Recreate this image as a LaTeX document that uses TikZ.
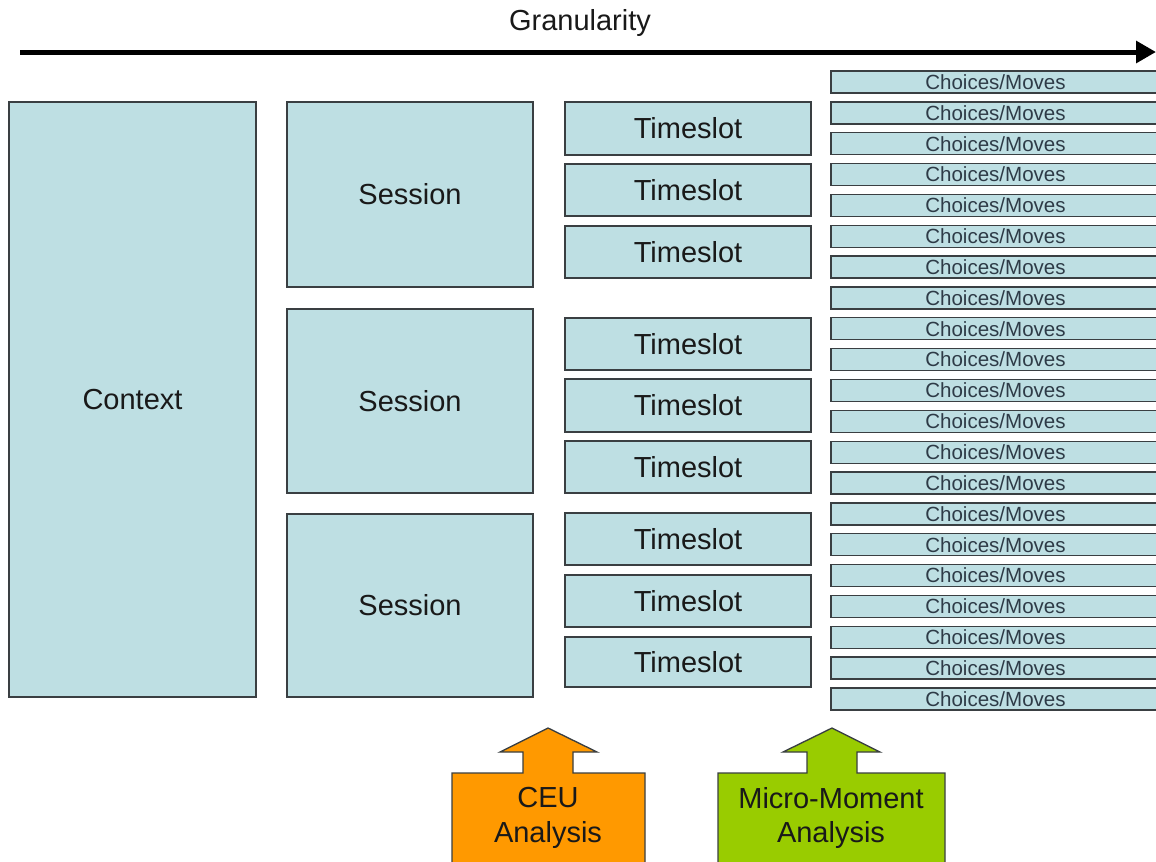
\documentclass[tikz,border=0pt]{standalone}
\usepackage{fontspec}
\setmainfont{Liberation Sans}
\usetikzlibrary{arrows.meta}
\definecolor{boxfill}{HTML}{BEDFE3}
\definecolor{boxline}{HTML}{3A3F42}
\definecolor{ceucol}{HTML}{FF9900}
\definecolor{mmcol}{HTML}{99CC00}
\definecolor{chtext}{HTML}{2E3B47}
\newcommand\mybox[6]{\node[box, minimum width={(#4-#2)*0.75pt}, minimum height={(#5-#3)*0.75pt}] (#1) at ({(#2+#4)/2},{(#3+#5)/2}) {#6};}
\begin{document}
\begin{tikzpicture}[x=0.75pt,y=-0.75pt,
  box/.style={draw=boxline, fill=boxfill, line width=1pt, inner sep=0pt, text=black!90, font=\fontsize{21.75}{26}\selectfont},
  chbox/.style={draw=boxline, fill=boxfill, line width=1pt, inner sep=0pt, text=chtext, minimum width={329*0.75pt}, minimum height={22*0.75pt}, font=\fontsize{15.4}{17}\selectfont},
  bigtext/.style={font=\fontsize{21.75}{26}\selectfont, text=black!90, align=center},
  uparrow/.style={draw=boxline, line width=1pt}]
\useasboundingbox (0,0) rectangle (1156,861);
\clip (0,0) rectangle (1156,861);
\fill[white] (0,0) rectangle (1156,861);
% granularity arrow
\coordinate (gs) at (20,52);
\coordinate (ge) at (1156,52);
\draw[line width=3.75pt, -{Triangle[length=15pt,width=16pt]}] (gs) -- (ge);
\node[bigtext] (gran) at (580,23) {Granularity};
% context and sessions
\mybox{context}{9}{102}{256}{697}{Context}
\mybox{s1}{287}{102}{533}{287}{Session}
\mybox{s2}{287}{309}{533}{493}{Session}
\mybox{s3}{287}{514}{533}{697}{Session}
% timeslots
\mybox{t1}{565}{102}{811}{155}{Timeslot}
\mybox{t2}{565}{164}{811}{216}{Timeslot}
\mybox{t3}{565}{226}{811}{278}{Timeslot}
\mybox{t4}{565}{318}{811}{370}{Timeslot}
\mybox{t5}{565}{379}{811}{432}{Timeslot}
\mybox{t6}{565}{441}{811}{493}{Timeslot}
\mybox{t7}{565}{513}{811}{565}{Timeslot}
\mybox{t8}{565}{575}{811}{627}{Timeslot}
\mybox{t9}{565}{637}{811}{687}{Timeslot}
% choices/moves
\foreach \i in {0,...,20} {
  \pgfmathsetmacro\yc{82+30.85*\i}
  \node[chbox] (c\i) at (995.5,\yc) {Choices/Moves};
}
% bottom arrows
\draw[uparrow, fill=ceucol] (452,870) -- (452,773) -- (523,773) -- (523,752) -- (500,752) -- (548,728) -- (597,752) -- (573,752) -- (573,773) -- (645,773) -- (645,870) -- cycle;
\node[bigtext] (ceu) at (548,818) {CEU\\Analysis};
\draw[uparrow, fill=mmcol] (718,870) -- (718,773) -- (807,773) -- (807,752) -- (783,752) -- (832,728) -- (880,752) -- (857,752) -- (857,773) -- (945,773) -- (945,870) -- cycle;
\node[bigtext] (mm) at (831,818) {Micro-Moment\\Analysis};
\end{tikzpicture}
\end{document}
